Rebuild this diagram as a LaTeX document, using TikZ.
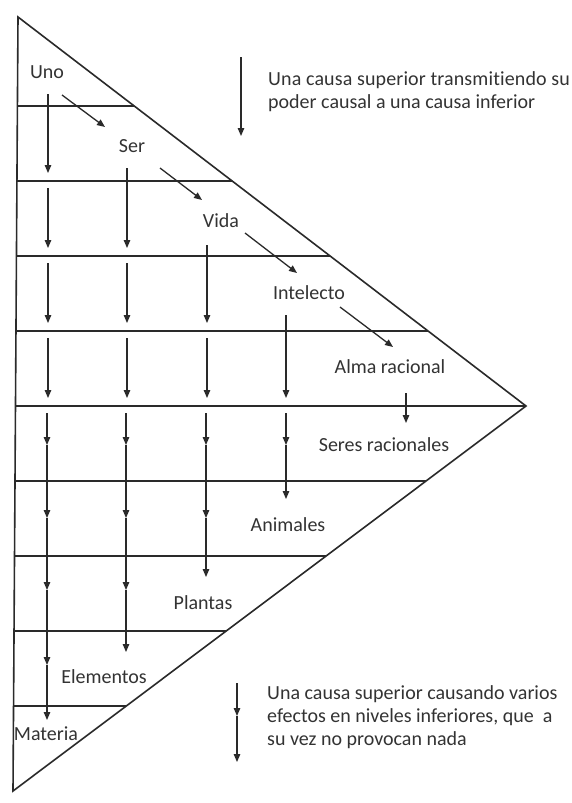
\documentclass[tikz,border=0pt]{standalone}
\usepackage{fontspec}
\setmainfont{Carlito}[Ligatures=CommonOff]
\newfontfamily\loosefont{Carlito}[Ligatures=CommonOff,LetterSpace=0.7]
\usetikzlibrary{arrows.meta}
\definecolor{ink}{HTML}{2A2A2A}
\definecolor{txt}{HTML}{333333}
\begin{document}
\begin{tikzpicture}[x=1pt,y=-1pt,
  frame/.style={draw=ink,line width=1.6pt,line join=miter},
  level/.style={draw=ink,line width=1.4pt},
  cause/.style={draw=ink,line width=1.3pt,-{Triangle[length=8pt,width=6.5pt]}},
  lbl/.style={text=txt,inner sep=0pt,font=\fontsize{20}{23}\selectfont},
  note/.style={lbl,align=left,anchor=west}]
\useasboundingbox (0,0) rectangle (571,803);
\fill[white] (0,0) rectangle (571,803);

% outer triangle
\coordinate (top) at (18,17);
\coordinate (apex) at (526,406);
\coordinate (bot) at (13,791);
\draw[frame] (top) -- (apex) -- (bot) -- cycle;

% level separators, left edge to hypotenuse
\foreach \y/\xl/\xr [count=\i] in {106/17.4/134.2, 181/16.9/232.2, 256/16.5/330.1,
    331/16.0/428.1, 406/15.5/526, 481/15.0/426.1, 556/14.5/326.1,
    631/14.0/226.2, 706/13.5/126.3} {
  \coordinate (l\i) at (\xl,\y);
  \coordinate (r\i) at (\xr,\y);
  \draw[level] (l\i) -- (r\i);
}

% levels of being
\node[lbl] (uno) at (47,72) {Uno};
\node[lbl] (ser) at (132,146) {Ser};
\node[lbl] (vida) at (221,221) {Vida};
\node[lbl] (intelecto) at (309,293) {Intelecto};
\node[lbl] (alma) at (390,367) {Alma racional};
\node[lbl] (seres) at (384,445) {Seres racionales};
\node[lbl] (animales) at (288,525) {Animales};
\node[lbl] (plantas) at (203,603) {Plantas};
\node[lbl] (elementos) at (104,677) {Elementos};
\node[lbl] (materia) at (46,734) {Materia};

% transmission from each cause to the next one
\foreach \xa/\ya/\xb/\yb [count=\i] in {62/95/105/127, 160/168/202/200,
    245/233/297/273, 340/307/393/347} {
  \coordinate (ds\i) at (\xa,\ya);
  \coordinate (de\i) at (\xb,\yb);
  \draw[cause] (ds\i) -- (de\i);
}

% single-step arrows in the upper half
\foreach \x/\ya/\yb [count=\i] in {48/94/173, 48/188/248, 48/263/323, 48/338/398,
    127/168/248, 127/263/323, 127/338/398,
    207/245/323, 207/338/398,
    286/315/398,
    406/393/423} {
  \coordinate (us\i) at (\x,\ya);
  \coordinate (ue\i) at (\x,\yb);
  \draw[cause] (us\i) -- (ue\i);
}

% continuous chains in the lower half
\coordinate (a0) at (47,413);
\coordinate (a1) at (47,445);
\coordinate (a2) at (47,518);
\coordinate (a3) at (47,590);
\coordinate (a4) at (47,665);
\coordinate (a5) at (47,720);
\draw[cause] (a0) -- (a1);
\draw[cause] (a1) -- (a2);
\draw[cause] (a2) -- (a3);
\draw[cause] (a3) -- (a4);
\draw[cause] (a4) -- (a5);

\coordinate (b0) at (126,413);
\coordinate (b1) at (126,445);
\coordinate (b2) at (126,518);
\coordinate (b3) at (126,590);
\coordinate (b4) at (126,652);
\draw[cause] (b0) -- (b1);
\draw[cause] (b1) -- (b2);
\draw[cause] (b2) -- (b3);
\draw[cause] (b3) -- (b4);

\coordinate (c0) at (206,413);
\coordinate (c1) at (206,445);
\coordinate (c2) at (206,518);
\coordinate (c3) at (206,577);
\draw[cause] (c0) -- (c1);
\draw[cause] (c1) -- (c2);
\draw[cause] (c2) -- (c3);

\coordinate (d0) at (286,413);
\coordinate (d1) at (286,445);
\coordinate (d2) at (286,499);
\draw[cause] (d0) -- (d1);
\draw[cause] (d1) -- (d2);

% legend
\coordinate (k1a) at (241,57);
\coordinate (k1b) at (241,136);
\draw[cause] (k1a) -- (k1b);
\node[note] (nota1) at (268,91.5) {{\loosefont Una causa superior transmitiendo su}\\poder causal a una causa inferior};

\coordinate (k2a) at (237,683);
\coordinate (k2b) at (237,716);
\coordinate (k2c) at (237,762);
\draw[cause] (k2a) -- (k2b);
\draw[cause] (k2b) -- (k2c);
\node[note] (nota2) at (267,717.5) {Una causa superior causando varios\\efectos en niveles inferiores, que\ \ a\\su vez no provocan nada};
\end{tikzpicture}
\end{document}
